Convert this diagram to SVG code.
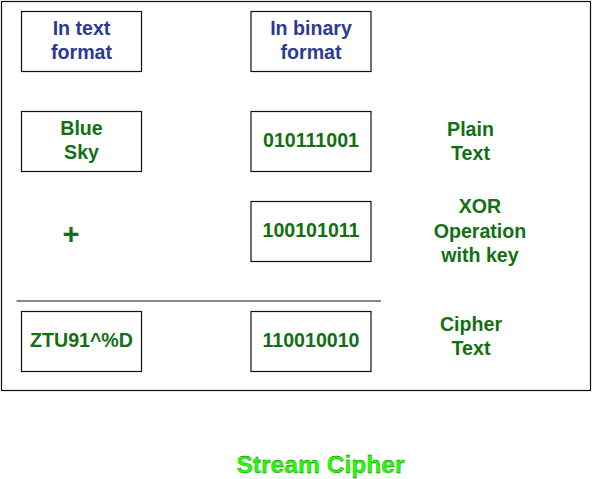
<svg xmlns="http://www.w3.org/2000/svg" width="593" height="479" viewBox="0 0 593 479">
<style>
.box{fill:#ffffff;stroke:#111111;stroke-width:1.2}
.t{font-family:"Liberation Sans",Arial,sans-serif;font-weight:bold;font-size:19.6px;text-anchor:middle}
.blue{fill:#2c3a94}
.green{fill:#127012}
</style>
<rect x="1.5" y="1.5" width="589" height="389" fill="#ffffff" stroke="#111111" stroke-width="1.2"/>
<g id="connectors">
<line x1="16.5" y1="301" x2="381" y2="301" stroke="#111111" stroke-width="1.2"/>
</g>
<g id="text-format-header">
<rect class="box" x="21.5" y="11.5" width="120" height="60"/>
<text class="t blue" x="81.5" y="35">In text</text>
<text class="t blue" x="81.5" y="59">format</text>
</g>
<g id="binary-format-header">
<rect class="box" x="251" y="11.5" width="120" height="60"/>
<text class="t blue" x="311" y="35">In binary</text>
<text class="t blue" x="311" y="59">format</text>
</g>
<g id="plain-text-node">
<rect class="box" x="21.5" y="111.5" width="120" height="60"/>
<text class="t green" x="81.5" y="135">Blue</text>
<text class="t green" x="81.5" y="159">Sky</text>
</g>
<g id="plain-binary-node">
<rect class="box" x="251" y="111.5" width="120" height="60"/>
<text class="t green" x="311" y="147">010111001</text>
</g>
<g id="plus-node">
<text class="t green" x="71" y="244" style="font-size:29px">+</text>
</g>
<g id="key-binary-node">
<rect class="box" x="251" y="201.5" width="120" height="60"/>
<text class="t green" x="311" y="237">100101011</text>
</g>
<g id="cipher-text-node">
<rect class="box" x="21.5" y="311.5" width="120" height="60"/>
<text class="t green" x="81.5" y="347">ZTU91^%D</text>
</g>
<g id="cipher-binary-node">
<rect class="box" x="251" y="311.5" width="120" height="60"/>
<text class="t green" x="311" y="347">110010010</text>
</g>
<g id="label-plain">
<text class="t green" x="470.5" y="136">Plain</text>
<text class="t green" x="470.5" y="160">Text</text>
</g>
<g id="label-xor">
<text class="t green" x="480" y="213">XOR</text>
<text class="t green" x="480" y="237.5">Operation</text>
<text class="t green" x="480" y="261.5">with key</text>
</g>
<g id="label-cipher">
<text class="t green" x="471" y="330.5">Cipher</text>
<text class="t green" x="471" y="354.5">Text</text>
</g>
<g id="title">
<text class="t" x="320.5" y="473" style="font-size:24.6px;fill:#22ff00;stroke:#0a5a00;stroke-width:0.3">Stream Cipher</text>
</g>
</svg>
